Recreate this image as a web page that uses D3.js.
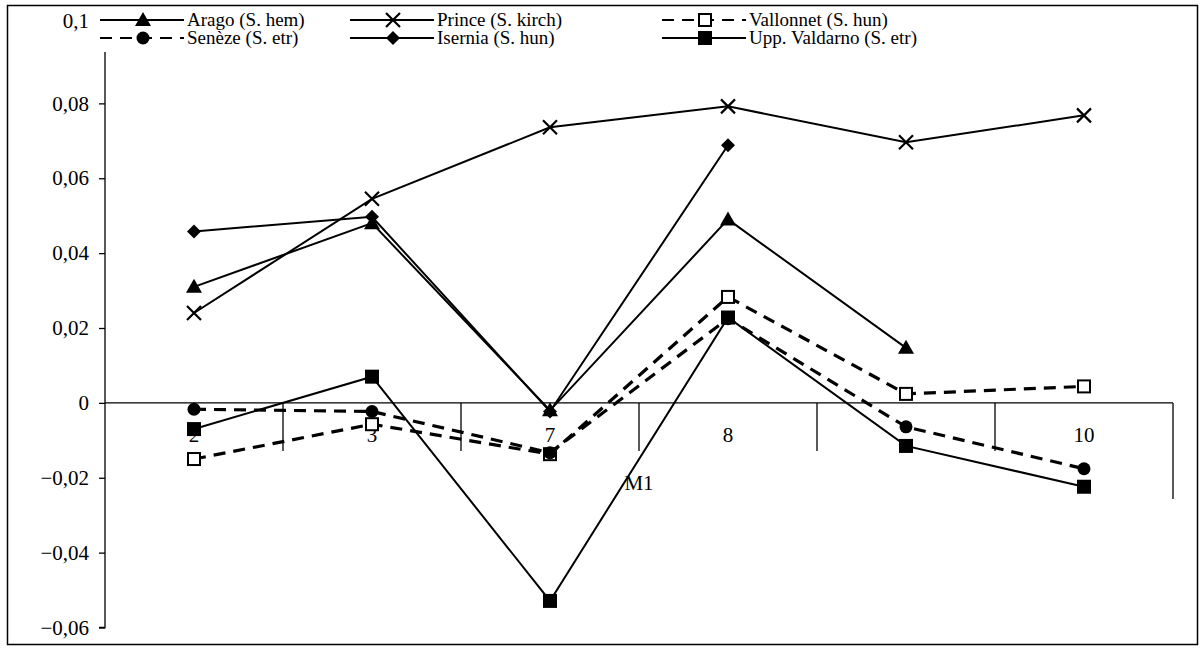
<!DOCTYPE html>
<html><head><meta charset="utf-8">
<script src="https://cdn.jsdelivr.net/npm/d3@7"></script>
<style>
html,body{margin:0;padding:0;background:#fff;}
svg{display:block;}
svg text{font-family:"Liberation Serif","Times New Roman",Times,"DejaVu Serif",serif !important;fill:#000;}
</style></head>
<body><svg id="c" width="1201" height="648"></svg>
<script>
// ---- data ----
const categories = ["2","3","7","8","9","10"];
const tickLabels = ["2","3","7","8","","10"];
const yTicks = [-0.06,-0.04,-0.02,0,0.02,0.04,0.06,0.08,0.1];
const seriesNames = ["Arago (S. hem)","Prince (S. kirch)","Vallonnet (S. hun)","Senèze (S. etr)","Isernia (S. hun)","Upp. Valdarno (S. etr)"];
const arago     = [0.031, 0.048, -0.002, 0.049, 0.0147, null];
const prince    = [0.024, 0.0545, 0.0736, 0.0792, 0.0696, 0.0768];
const vallonnet = [-0.015, -0.0057, -0.0137, 0.0283, 0.0024, 0.0044];
const seneze    = [-0.0017, -0.0023, -0.0133, 0.0225, -0.0064, -0.0176];
const isernia   = [0.0458, 0.0497, -0.0023, 0.0688, null, null];
const valdarno  = [-0.007, 0.007, -0.0529, 0.0228, -0.0115, -0.0224];
const axisTitle = "M1";

const series = [
  {name:seriesNames[0], values:arago, marker:"triangle", dash:null},
  {name:seriesNames[1], values:prince, marker:"cross", dash:null},
  {name:seriesNames[2], values:vallonnet, marker:"openSquare", dash:"12,8"},
  {name:seriesNames[3], values:seneze, marker:"circle", dash:"12,8"},
  {name:seriesNames[4], values:isernia, marker:"diamond", dash:null},
  {name:seriesNames[5], values:valdarno, marker:"square", dash:null}
];

const FONT = "'Liberation Serif','Times New Roman',Times,serif";
const svg = d3.select("#c");
const pLeft = 105, pRight = 1173, pTop = 28.5, pBottom = 627.5;

// outer border
svg.append("rect").attr("x",7.5).attr("y",5.5).attr("width",1190).attr("height",639)
  .attr("fill","none").attr("stroke","#000").attr("stroke-width",1.5);

const x = d3.scaleBand().domain(categories).range([pLeft,pRight]).padding(0);
const y = d3.scaleLinear().domain([-0.06,0.1]).range([pBottom,pTop]);
const fmt = d => d===0 ? "0" : d3.format(".2~f")(d).replace(".",",");

// y axis
const yAxis = svg.append("g").attr("transform",`translate(${pLeft},0)`)
  .call(d3.axisLeft(y).tickValues(yTicks).tickSize(6).tickPadding(10).tickFormat(fmt));
yAxis.attr("font-family",FONT);
yAxis.selectAll("path,line").attr("stroke","#000").attr("stroke-width",1.3);
yAxis.select(".domain").attr("d",`M-6,${pTop}H0V${pBottom}H-6`);
yAxis.selectAll("text").attr("font-size",21).style("font-family",FONT)
  .attr("dy", d => d===0.1 ? "-0.05em" : "0.32em");

// x axis at y=0 with boundary ticks below
const y0 = y(0);
const xg = svg.append("g");
xg.append("line").attr("x1",pLeft).attr("x2",pRight).attr("y1",y0).attr("y2",y0)
  .attr("stroke","#000").attr("stroke-width",1.3);
const bounds = categories.map(c=>x(c)).concat([x(categories[categories.length-1])+x.bandwidth()]).slice(1);
xg.selectAll("line.tk").data(bounds).join("line").attr("class","tk")
  .attr("x1",d=>d).attr("x2",d=>d).attr("y1",y0)
  .attr("y2",(d,i)=> i===bounds.length-1 ? y0+96 : y0+48)
  .attr("stroke","#000").attr("stroke-width",1.3);
xg.selectAll("text.lab").data(categories).join("text").attr("class","lab")
  .attr("x",d=>x(d)+x.bandwidth()/2).attr("y",y0+39)
  .attr("text-anchor","middle").attr("font-size",21).style("font-family",FONT)
  .text((d,i)=>tickLabels[i]);
svg.append("text").attr("x",x("8")).attr("y",y0+87).attr("text-anchor","middle")
  .attr("font-size",21).style("font-family",FONT).text(axisTitle);

// marker drawing
function drawMarker(g, type, cx, cy){
  if(type==="triangle"){
    g.append("path").attr("d",`M${cx},${cy-8}L${cx+8},${cy+6}L${cx-8},${cy+6}Z`).attr("fill","#000");
  } else if(type==="cross"){
    g.append("path").attr("d",`M${cx-7},${cy-7}L${cx+7},${cy+7}M${cx+7},${cy-7}L${cx-7},${cy+7}`)
      .attr("stroke","#000").attr("stroke-width",2.2).attr("fill","none");
  } else if(type==="openSquare"){
    g.append("rect").attr("x",cx-6).attr("y",cy-6).attr("width",12).attr("height",12)
      .attr("fill","#fff").attr("stroke","#000").attr("stroke-width",2);
  } else if(type==="circle"){
    g.append("circle").attr("cx",cx).attr("cy",cy).attr("r",6.5).attr("fill","#000");
  } else if(type==="diamond"){
    g.append("path").attr("d",`M${cx},${cy-7}L${cx+7},${cy}L${cx},${cy+7}L${cx-7},${cy}Z`).attr("fill","#000");
  } else if(type==="square"){
    g.append("rect").attr("x",cx-7).attr("y",cy-7).attr("width",14).attr("height",14).attr("fill","#000");
  }
}

const cx = c => x(c)+x.bandwidth()/2;
const line = d3.line().defined(d=>d[1]!=null).x(d=>cx(d[0])).y(d=>y(d[1]));
const plot = svg.append("g");
series.forEach(s=>{
  const pts = categories.map((c,i)=>[c,s.values[i]]);
  plot.append("path").attr("d",line(pts)).attr("fill","none").attr("stroke","#000")
    .attr("stroke-width", s.dash ? 3.2 : 2).attr("stroke-dasharray", s.dash);
});
series.forEach(s=>{
  const g = plot.append("g");
  categories.forEach((c,i)=>{ if(s.values[i]!=null) drawMarker(g,s.marker,cx(c),y(s.values[i])); });
});

// legend (white box over the top of the axis)
const lg = svg.append("g");
lg.append("rect").attr("x",97).attr("y",8).attr("width",880).attr("height",44).attr("fill","#fff");
const legPos = [[100,20],[350,20],[662,20],[100,38],[350,38],[662,38]];
series.forEach((s,i)=>{
  const [lx,ly] = legPos[i];
  lg.append("line").attr("x1",lx).attr("x2",lx+84).attr("y1",ly).attr("y2",ly)
    .attr("stroke","#000").attr("stroke-width",s.dash?2.2:2).attr("stroke-dasharray",s.dash?"12,8":null);
  drawMarker(lg, s.marker, lx+43, ly);
  lg.append("text").attr("x",lx+87).attr("y",ly).attr("dy","0.33em").attr("font-size",19)
    .style("font-family",FONT).text(s.name);
});
</script></body></html>
